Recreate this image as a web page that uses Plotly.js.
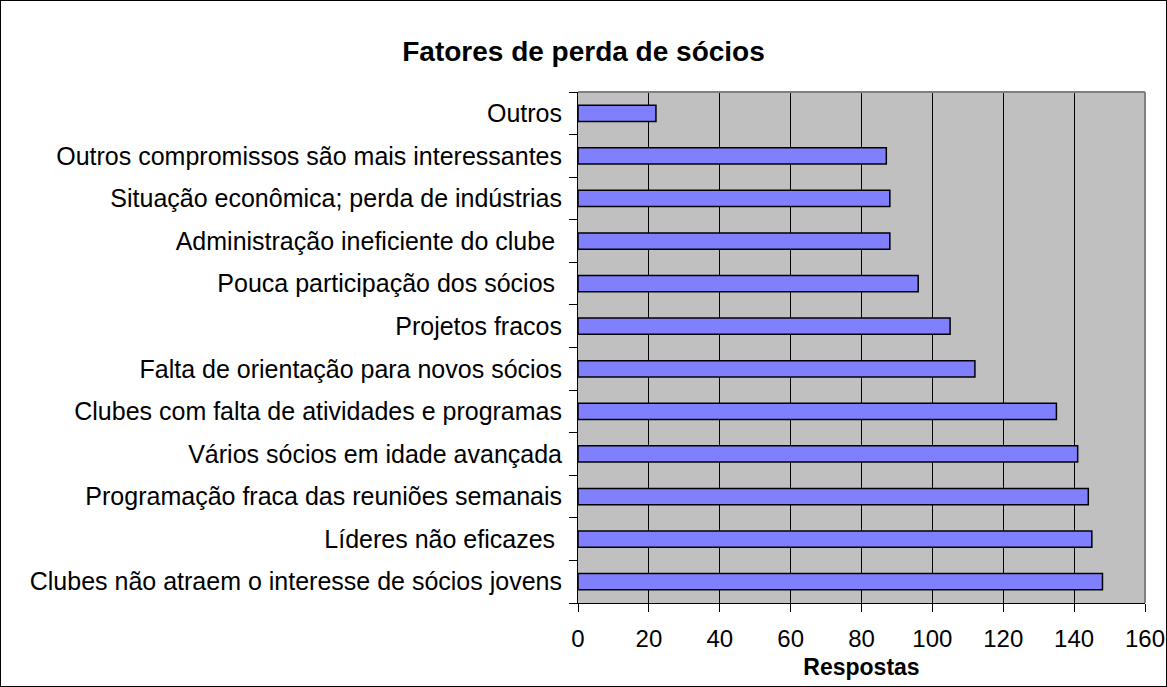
<!DOCTYPE html>
<html>
<head>
<meta charset="utf-8">
<script src="https://cdn.plot.ly/plotly-3.0.1.min.js"></script>
<style>
html,body{margin:0;padding:0;background:#fff;}
#wrap{position:relative;width:1167px;height:687px;}
#chart{width:1167px;height:687px;}
#frame{position:absolute;left:0;top:0;width:1167px;height:687px;box-sizing:border-box;border:1px solid #000;pointer-events:none;}
</style>
</head>
<body>
<div id="wrap"><div id="chart"></div><div id="frame"></div></div>
<script>
// Categories from bottom to top
const categories = [
  "Clubes não atraem o interesse de sócios jovens",
  "Líderes não eficazes\u00a0",
  "Programação fraca das reuniões semanais",
  "Vários sócios em idade avançada",
  "Clubes com falta de atividades e programas",
  "Falta de orientação para novos sócios",
  "Projetos fracos",
  "Pouca participação dos sócios\u00a0",
  "Administração ineficiente do clube\u00a0",
  "Situação econômica; perda de indústrias",
  "Outros compromissos são mais interessantes",
  "Outros"
];
const respostas = [148, 145, 144, 141, 135, 112, 105, 96, 88, 88, 87, 22];
const xTicks = [0, 20, 40, 60, 80, 100, 120, 140, 160];

const font = "Liberation Sans, Arial, sans-serif";

const trace = {
  type: "bar",
  orientation: "h",
  y: categories,
  x: respostas,
  width: 0.38,
  marker: {color: "#8080FF", line: {color: "#000000", width: 1.5}},
  hoverinfo: "x+y"
};

const layout = {
  width: 1167,
  height: 687,
  margin: {l: 578, r: 22, t: 92, b: 84},
  paper_bgcolor: "#ffffff",
  plot_bgcolor: "#C0C0C0",
  showlegend: false,
  title: {
    text: "<b>Fatores de perda de sócios</b>",
    font: {family: font, size: 28, color: "#000"},
    x: 0.5, xref: "container", xanchor: "center",
    y: 0.926, yref: "container", yanchor: "middle"
  },
  xaxis: {
    range: [0, 160],
    tickvals: xTicks,
    ticktext: xTicks.map(String),
    showgrid: true,
    gridcolor: "#000000",
    gridwidth: 1,
    zeroline: false,
    showline: true,
    linecolor: "#000000",
    linewidth: 1,
    ticks: "outside",
    ticklen: 8,
    tickcolor: "#000000",
    ticklabelstandoff: 6,
    ticklabeloverflow: "allow",
    tickfont: {family: font, size: 24, color: "#000"},
    title: {text: "<b>Respostas</b>", font: {family: font, size: 23, color: "#000"}, standoff: 8},
    fixedrange: true
  },
  yaxis: {
    type: "category",
    categoryorder: "array",
    categoryarray: categories,
    showgrid: false,
    zeroline: false,
    showline: true,
    linecolor: "#000000",
    linewidth: 1,
    ticks: "outside",
    tickson: "boundaries",
    ticklen: 8,
    tickcolor: "#000000",
    ticklabelstandoff: 10,
    tickfont: {family: font, size: 25, color: "#000"},
    fixedrange: true
  },
  shapes: [
    {type: "line", xref: "paper", yref: "paper", x0: 0, x1: 1, y0: 1, y1: 1, line: {color: "#808080", width: 2}},
    {type: "line", xref: "paper", yref: "paper", x0: 1, x1: 1, y0: 0, y1: 1, line: {color: "#808080", width: 2}}
  ]
};

Plotly.newPlot("chart", [trace], layout, {displayModeBar: false, staticPlot: true});
</script>
</body>
</html>
